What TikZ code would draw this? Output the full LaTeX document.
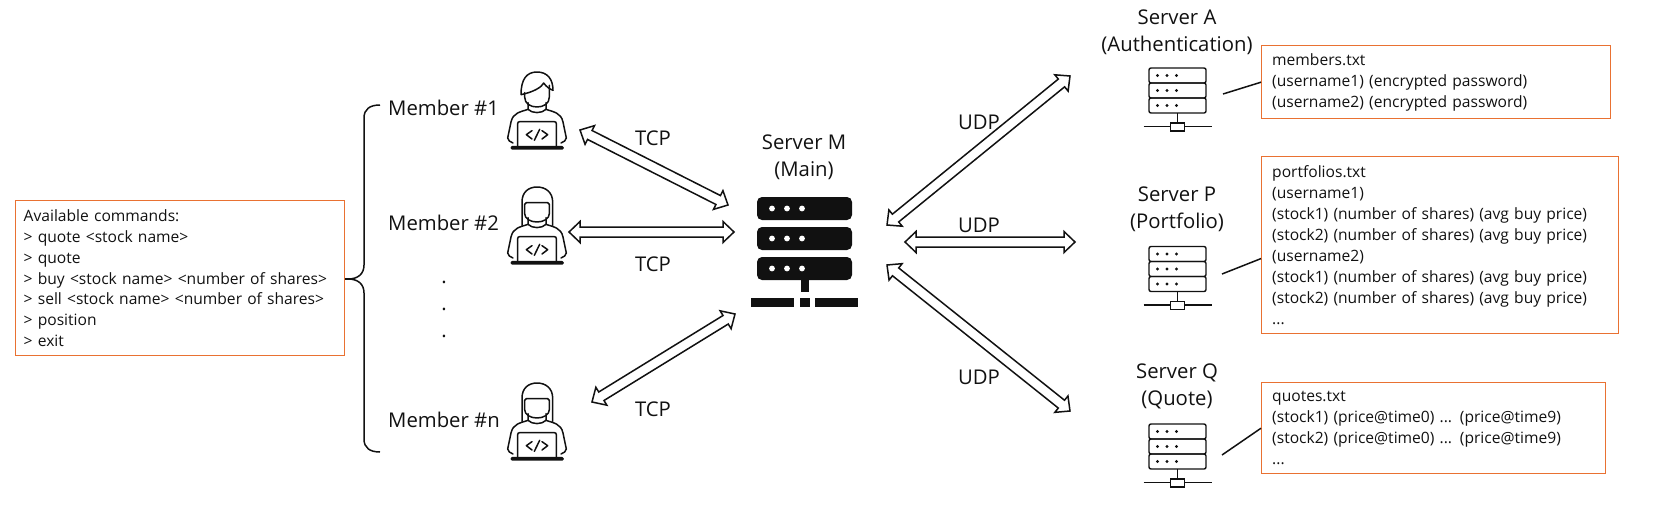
\documentclass[tikz,border=0pt]{standalone}
\usepackage{fontspec}
\setmainfont{Open Sans}
\usetikzlibrary{calc}
\definecolor{boxorange}{HTML}{E97132}
\definecolor{ink}{HTML}{111111}
\tikzset{
  lbl/.style={text=ink,align=center,inner sep=0pt,font=\fontsize{20.3}{26.6}\selectfont},
  txtbox/.style={draw=boxorange,line width=1.4pt,anchor=north west,inner sep=0pt,text=ink,align=left,font=\fontsize{15.6}{20.9}\selectfont},
  link/.style={draw=ink,line width=1.5pt},
  fat/.style={draw=ink,line width=1.5pt,fill=white,line join=miter},
  man/.pic={
    \begin{scope}[x=0.3333pt,y=-0.3333pt,draw=ink,line width=1.5pt,line cap=round,line join=round]
    \draw (-48,68) .. controls (-48,20) and (-30,0) .. (0,0) .. controls (30,0) and (48,20) .. (48,55)
          .. controls (40,52) and (28,45) .. (20,33) .. controls (15,45) and (-10,60) .. (-48,68);
    \draw (-37,62) -- (-37,75) .. controls (-37,95) and (-20,105) .. (0,105) .. controls (20,105) and (37,95) .. (37,75) -- (37,40);
    \pic {torso};
    \end{scope}
  },
  woman/.pic={
    \begin{scope}[x=0.3333pt,y=-0.3333pt,draw=ink,line width=1.5pt,line cap=round,line join=round]
    \draw (-45,115) -- (-45,45) .. controls (-45,15) and (-25,0) .. (0,0) .. controls (25,0) and (47,15) .. (47,45) -- (47,115);
    \draw (-37,80) -- (-37,52) .. controls (-37,48) and (-35,47) .. (-32,47) -- (32,47) .. controls (35,47) and (37,48) .. (37,52) -- (37,80)
          .. controls (37,95) and (20,105) .. (0,105) .. controls (-20,105) and (-37,95) .. (-37,80);
    \pic {torso};
    \end{scope}
  },
  torso/.pic={
    \draw (-27,92) -- (-27,112) .. controls (-15,125) and (15,125) .. (27,112) -- (27,92);
    \draw (-27,112) .. controls (-50,120) and (-72,122) .. (-78,150) -- (-88,198) .. controls (-88,205) and (-80,210) .. (-72,213);
    \draw (27,112) .. controls (50,120) and (72,122) .. (78,150) -- (88,198) .. controls (88,205) and (80,210) .. (72,213);
    \draw (-58,224) -- (-58,155) .. controls (-58,151) and (-56,149) .. (-52,149) -- (52,149) .. controls (56,149) and (58,151) .. (58,155) -- (58,224);
    \draw[rounded corners=1pt,fill=ink] (-77,224) rectangle (78,231);
    \draw (-15,176) -- (-32,188) -- (-15,201);
    \draw (15,176) -- (32,188) -- (15,201);
    \draw (-8,205) -- (8,172);
  },
  rackbig/.pic={
    \foreach \yy in {197,227,257}{
      \fill[ink,rounded corners=5pt] (757,\yy) rectangle (852,\yy+23);
      \foreach \xx in {772,787,802}{\fill[white] (\xx,\yy+11.5) circle (2.9);}
    }
    \fill[ink] (801,280) rectangle (809,292);
    \fill[ink] (751,298) rectangle (794,307);
    \fill[ink] (800,298) rectangle (810,307);
    \fill[ink] (815,298) rectangle (858,307);
  },
  racksmall/.pic={
    \begin{scope}[draw=ink,line width=1.4pt]
    \foreach \yy in {0,15,30}{
      \draw[rounded corners=2pt] (-28.5,\yy) rectangle (28.5,\yy+15);
      \foreach \xx in {-20,-10.5,-1}{\fill[ink] (\xx,\yy+7.5) circle (1.7);}
    }
    \draw (0,45) -- (0,55);
    \draw (-34,58.5) -- (-7,58.5) (7,58.5) -- (34,58.5);
    \draw (-7,55) rectangle (7,63);
    \end{scope}
  },
}
\newcommand{\dblarrow}[2]{%
  \draw[fat] (#1) -- ($(#1)!11pt!(#2)!10.5pt!90:(#2)$) -- ($(#1)!11pt!(#2)!5pt!90:(#2)$)
    -- ($(#2)!11pt!(#1)!5pt!-90:(#1)$) -- ($(#2)!11pt!(#1)!10.5pt!-90:(#1)$) -- (#2)
    -- ($(#2)!11pt!(#1)!10.5pt!90:(#1)$) -- ($(#2)!11pt!(#1)!5pt!90:(#1)$)
    -- ($(#1)!11pt!(#2)!5pt!-90:(#2)$) -- ($(#1)!11pt!(#2)!10.5pt!-90:(#2)$) -- cycle;}
\begin{document}
\begin{tikzpicture}[x=1pt,y=-1pt]
\useasboundingbox (0,0) rectangle (1666,509);
% command box
\node[txtbox,minimum width=329pt,minimum height=155pt,text width=313pt] (cmds) at (15,200)
 {Available commands:\\> quote <stock name>\\> quote\\> buy <stock name> <number of shares>\\> sell <stock name> <number of shares>\\> position\\> exit};
% brace
\coordinate (tip) at (348,279);
\coordinate (btop) at (380,105);
\coordinate (bbot) at (380,452);
\draw[link] (cmds.east |- tip) -- (tip);
\draw[link] (btop) .. controls (370,105) and (364,109) .. (364,118) -- (364,265) .. controls (364,274) and (358,279) .. (tip)
  .. controls (358,279) and (364,284) .. (364,293) -- (364,439) .. controls (364,448) and (370,452) .. (bbot);
% members
\node[lbl,anchor=west] (m1) at (388,108) {Member \#1};
\node[lbl,anchor=west] (m2) at (388,223) {Member \#2};
\node[lbl,anchor=west] (mn) at (388,420) {Member \#n};
\node[lbl] (d1) at (444,282) {.};
\node[lbl] (d2) at (444,309) {.};
\node[lbl] (d3) at (444,336) {.};
\pic (p1) at (537,72) {man};
\pic (p2) at (537,187) {woman};
\pic (pn) at (537,383) {woman};
% main server
\pic (srvM) at (0,0) {rackbig};
\node[lbl] (mlab) at (804,157.5) {Server M\\(Main)};
% small servers
\pic (srvA) at (1177.5,68) {racksmall};
\pic (srvP) at (1177.5,246.5) {racksmall};
\pic (srvQ) at (1177.5,424) {racksmall};
\node[lbl] (alab) at (1177,32) {Server A\\(Authentication)};
\node[lbl] (plab) at (1177,209.5) {Server P\\(Portfolio)};
\node[lbl] (qlab) at (1177,386.5) {Server Q\\(Quote)};
% files
\node[txtbox,minimum width=349pt,minimum height=73pt,text width=328pt] (fa) at (1261,45)
 {members.txt\\(username1) (encrypted password)\\(username2) (encrypted password)};
\node[txtbox,minimum width=357pt,minimum height=177pt,text width=336pt] (fp) at (1261,156)
 {portfolios.txt\\(username1)\\(stock1) (number of shares) (avg buy price)\\(stock2) (number of shares) (avg buy price)\\(username2)\\(stock1) (number of shares) (avg buy price)\\(stock2) (number of shares) (avg buy price)\\...};
\node[txtbox,minimum width=344pt,minimum height=91pt,text width=323pt] (fq) at (1261,382)
 {quotes.txt\\(stock1) (price@time0) ... (price@time9)\\(stock2) (price@time0) ... (price@time9)\\...};
\coordinate (la) at (1223,94);
\coordinate (lp) at (1222,274);
\coordinate (lq) at (1222,455);
\draw[link] (la) -- (fa.west);
\draw[link] (lp) -- ($(fp.north west)!0.575!(fp.south west)$);
\draw[link] (lq) -- (fq.west);
% arrows
\coordinate (t1a) at (580,130); \coordinate (t1b) at (728,205);
\coordinate (t2a) at (569,232); \coordinate (t2b) at (734,232);
\coordinate (t3a) at (592,402); \coordinate (t3b) at (735,314);
\coordinate (u1a) at (887,225); \coordinate (u1b) at (1070,76);
\coordinate (u2a) at (905,242); \coordinate (u2b) at (1075,242);
\coordinate (u3a) at (887,265); \coordinate (u3b) at (1070,411);
\dblarrow{t1a}{t1b}
\dblarrow{t2a}{t2b}
\dblarrow{t3a}{t3b}
\dblarrow{u1a}{u1b}
\dblarrow{u2a}{u2b}
\dblarrow{u3a}{u3b}
\node[lbl] (tc1) at (653,138) {TCP};
\node[lbl] (tc2) at (653,264) {TCP};
\node[lbl] (tc3) at (653,409) {TCP};
\node[lbl] (ud1) at (979,122) {UDP};
\node[lbl] (ud2) at (979,225) {UDP};
\node[lbl] (ud3) at (979,377) {UDP};
\end{tikzpicture}
\end{document}
